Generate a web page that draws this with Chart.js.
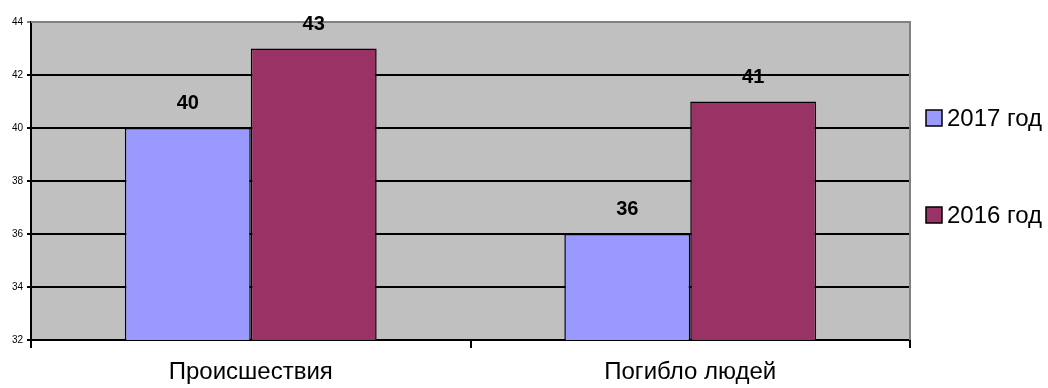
<!DOCTYPE html>
<html>
<head>
<meta charset="utf-8">
<script src="https://cdn.jsdelivr.net/npm/chart.js@4"></script>
<style>
  html, body { margin: 0; padding: 0; background: #fff; }
  #wrap { width: 1048px; height: 388px; }
</style>
</head>
<body>
<div id="wrap"><canvas id="accidentsChart" width="1048" height="388"></canvas></div>
<script>
// data
const categories = ["Происшествия", "Погибло людей"];
const seriesNames = ["2017 год", "2016 год"];
const values2017 = [40, 36];
const values2016 = [43, 41];
const yTicks = [32, 34, 36, 38, 40, 42, 44];

const FONT = "'Liberation Sans', Arial, sans-serif";
const PLOT_BG = "#c0c0c0";

// gray plot background + top/right frame
const plotFrame = {
  id: "plotFrame",
  beforeDraw(chart) {
    const { ctx, chartArea: a } = chart;
    ctx.save();
    ctx.fillStyle = PLOT_BG;
    ctx.fillRect(a.left, a.top, a.right - a.left, a.bottom - a.top);
    ctx.restore();
  },
  beforeDatasetsDraw(chart) {
    const { ctx, chartArea: a } = chart;
    ctx.save();
    ctx.strokeStyle = "#808080";
    ctx.lineWidth = 2;
    ctx.beginPath();
    ctx.moveTo(a.left, a.top);
    ctx.lineTo(a.right, a.top);
    ctx.lineTo(a.right, a.bottom);
    ctx.stroke();
    ctx.restore();
  },
};

// value labels above bars
const valueLabels = {
  id: "valueLabels",
  afterDatasetsDraw(chart) {
    const { ctx } = chart;
    ctx.save();
    ctx.font = "bold 20px " + FONT;
    ctx.fillStyle = "#000";
    ctx.textAlign = "center";
    ctx.textBaseline = "alphabetic";
    chart.data.datasets.forEach((ds, i) => {
      chart.getDatasetMeta(i).data.forEach((bar, j) => {
        ctx.fillText(String(ds.data[j]), bar.x, bar.y - 19);
      });
    });
    ctx.restore();
  },
};

// legend on the right, spaced like the original
const sideLegend = {
  id: "sideLegend",
  afterDraw(chart) {
    const { ctx } = chart;
    const rows = [118, 215];
    ctx.save();
    ctx.font = "24px " + FONT;
    ctx.textBaseline = "middle";
    ctx.textAlign = "left";
    chart.data.datasets.forEach((ds, i) => {
      const y = rows[i];
      ctx.fillStyle = ds.backgroundColor;
      ctx.fillRect(926, y - 8, 16, 16);
      ctx.strokeStyle = "#000";
      ctx.lineWidth = 1.5;
      ctx.strokeRect(926, y - 8, 16, 16);
      ctx.fillStyle = "#000";
      ctx.fillText(ds.label, 947, y + 1);
    });
    ctx.restore();
  },
};

const chart = new Chart(document.getElementById("accidentsChart"), {
  type: "bar",
  data: {
    labels: categories,
    datasets: [
      {
        label: seriesNames[0],
        data: values2017,
        backgroundColor: "#9999ff",
        borderColor: "#000",
        borderWidth: 1.5,
      },
      {
        label: seriesNames[1],
        data: values2016,
        backgroundColor: "#993366",
        borderColor: "#000",
        borderWidth: 1.5,
      },
    ],
  },
  options: {
    responsive: false,
    animation: false,
    events: [],
    layout: { padding: { top: 22, right: 138, left: 0, bottom: 0 } },
    datasets: {
      bar: { categoryPercentage: 0.573, barPercentage: 1.0 },
    },
    plugins: {
      legend: { display: false },
      tooltip: { enabled: false },
    },
    scales: {
      x: {
        grid: {
          display: true,
          offset: true,
          drawOnChartArea: false,
          drawTicks: true,
          tickLength: 8,
          color: "#000",
          lineWidth: 2,
        },
        border: { display: true, color: "#000", width: 2 },
        ticks: {
          color: "#000",
          font: { family: FONT, size: 24 },
          padding: 10,
          maxRotation: 0,
        },
        afterFit(scale) { scale.height = 48; },
      },
      y: {
        min: yTicks[0],
        max: yTicks[yTicks.length - 1],
        afterBuildTicks(scale) {
          scale.ticks = yTicks.map((v) => ({ value: v }));
        },
        grid: {
          color: (c) => (c.tick && c.tick.value === 44 ? "#808080" : "#000"),
          lineWidth: 2,
          tickLength: 4,
        },
        border: { display: true, color: "#000", width: 2 },
        ticks: {
          color: "#000",
          font: { family: FONT, size: 10 },
          padding: 4,
        },
        afterFit(scale) { scale.width = 31; },
      },
    },
  },
  plugins: [plotFrame, valueLabels, sideLegend],
});
</script>
</body>
</html>
